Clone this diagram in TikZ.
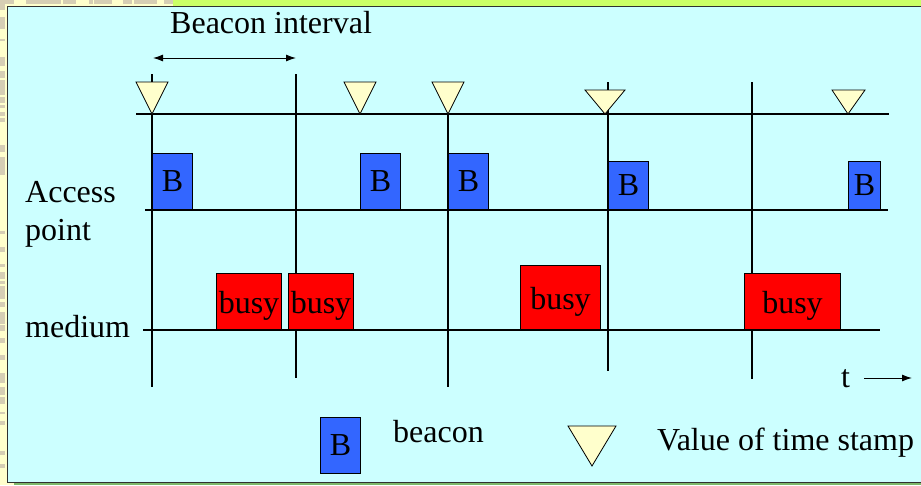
\documentclass[tikz,border=0pt]{standalone}
\usepackage{fontspec}
\setmainfont{Liberation Serif}
\usetikzlibrary{arrows.meta}

\definecolor{panel}{HTML}{CCFFFF}
\definecolor{paper}{HTML}{FFFFCC}
\definecolor{speck}{HTML}{D6CEB4}
\definecolor{lime}{HTML}{CCFF66}
\definecolor{grass}{HTML}{7DB86A}
\definecolor{edge}{HTML}{303030}
\definecolor{bblue}{HTML}{3366FF}
\definecolor{bred}{HTML}{FF0000}
\definecolor{stamp}{HTML}{FFFFCC}

\newcommand{\labfont}{\fontsize{32}{35}\selectfont}

\tikzset{
  axis/.style={draw=black, line width=1.2pt},
  beaconbox/.style={draw=black, fill=bblue, line width=1pt, inner sep=0pt,
    anchor=south west, font=\labfont},
  busybox/.style={draw=black, fill=bred, line width=1pt, inner sep=0pt,
    anchor=south west, font=\labfont, text height=28pt, text depth=4pt},
  stampmark/.style={draw=black, fill=stamp, line width=0.8pt, line join=miter},
  label/.style={inner sep=0pt, anchor=base west, font=\labfont},
  stk/.tip={Latex[length=10pt,width=7pt]},
}

\begin{document}
\begin{tikzpicture}[x=1pt,y=-1pt]
\useasboundingbox (0,0) rectangle (921,485);

% slide frame: pale paper with speckled border
\fill[paper] (0,0) rectangle (921,485);
\pgfmathsetseed{11}
\foreach \i in {1,...,60}{
  \pgfmathsetmacro{\yy}{rnd*480}
  \pgfmathsetmacro{\hh}{2+rnd*6}
  \fill[speck] (0,\yy) rectangle (5,\yy+\hh);
}
\foreach \i in {1,...,30}{
  \pgfmathsetmacro{\xx}{rnd*168}
  \pgfmathsetmacro{\ww}{3+rnd*8}
  \fill[speck] (\xx,0) rectangle (\xx+\ww,4);
}
\fill[lime] (173,0) rectangle (921,5.5);
\fill[grass] (14,483) rectangle (921,485);
\filldraw[fill=panel, draw=edge, line width=1pt] (7,6) rectangle (930,482);

% time axes
\draw[axis] (136,114) -- (889,114);
\draw[axis] (145,210) -- (888,210);
\draw[axis] (143,330) -- (880,330);

% beacon interval boundaries
\draw[axis] (152,74) -- (152,387);
\draw[axis] (296,74) -- (296,378);
\draw[axis] (448,85) -- (448,387);
\draw[axis] (608,82) -- (608,371);
\draw[axis] (752,82) -- (752,379);

% beacon interval
\coordinate (bi-l) at (153,58);
\coordinate (bi-r) at (296,58);
\draw[line width=1pt, stk-stk] (bi-l) -- (bi-r);
\node[label] (bi) at (170,33) {Beacon interval};

% time stamp values
\draw[stampmark] (136,82) -- (168,82) -- (152,114) -- cycle;
\draw[stampmark] (344,82) -- (376,82) -- (360,114) -- cycle;
\draw[stampmark] (432,82) -- (464,82) -- (448,114) -- cycle;
\draw[stampmark] (585,90) -- (625,90) -- (605,114) -- cycle;
\draw[stampmark] (832,90) -- (865,90) -- (848,114) -- cycle;

% beacons sent by the access point
\node[beaconbox, minimum width=40pt, minimum height=56pt] (b1) at (152,210) {B};
\node[beaconbox, minimum width=40pt, minimum height=56pt] (b2) at (360,210) {B};
\node[beaconbox, minimum width=40pt, minimum height=56pt] (b3) at (448,210) {B};
\node[beaconbox, minimum width=40pt, minimum height=48pt] (b4) at (608,210) {B};
\node[beaconbox, minimum width=32pt, minimum height=48pt] (b5) at (848,210) {B};

% medium busy periods
\node[busybox, minimum width=65pt, minimum height=56pt] (m1) at (216,330) {busy};
\node[busybox, minimum width=65pt, minimum height=56pt] (m2) at (288,330) {busy};
\node[busybox, minimum width=80pt, minimum height=64pt] (m3) at (520,330) {busy};
\node[busybox, minimum width=96pt, minimum height=56pt] (m4) at (744,330) {busy};

% row labels
\node[label] (ap1) at (25,202) {Access};
\node[label] (ap2) at (25,240) {point};
\node[label] (med) at (25,337) {medium};

% time direction
\node[label] (t) at (841,387) {t};
\coordinate (t-start) at (864,378);
\coordinate (t-end) at (912,378);
\draw[line width=1pt, -stk] (t-start) -- (t-end);

% legend
\node[beaconbox, minimum width=40pt, minimum height=56pt] (lb) at (320,474) {B};
\node[label] (lbtext) at (393,442) {beacon};
\draw[stampmark] (568,426) -- (616,426) -- (592,466) -- cycle;
\node[label] (lstext) at (657,450) {Value of time stamp};
\end{tikzpicture}
\end{document}
